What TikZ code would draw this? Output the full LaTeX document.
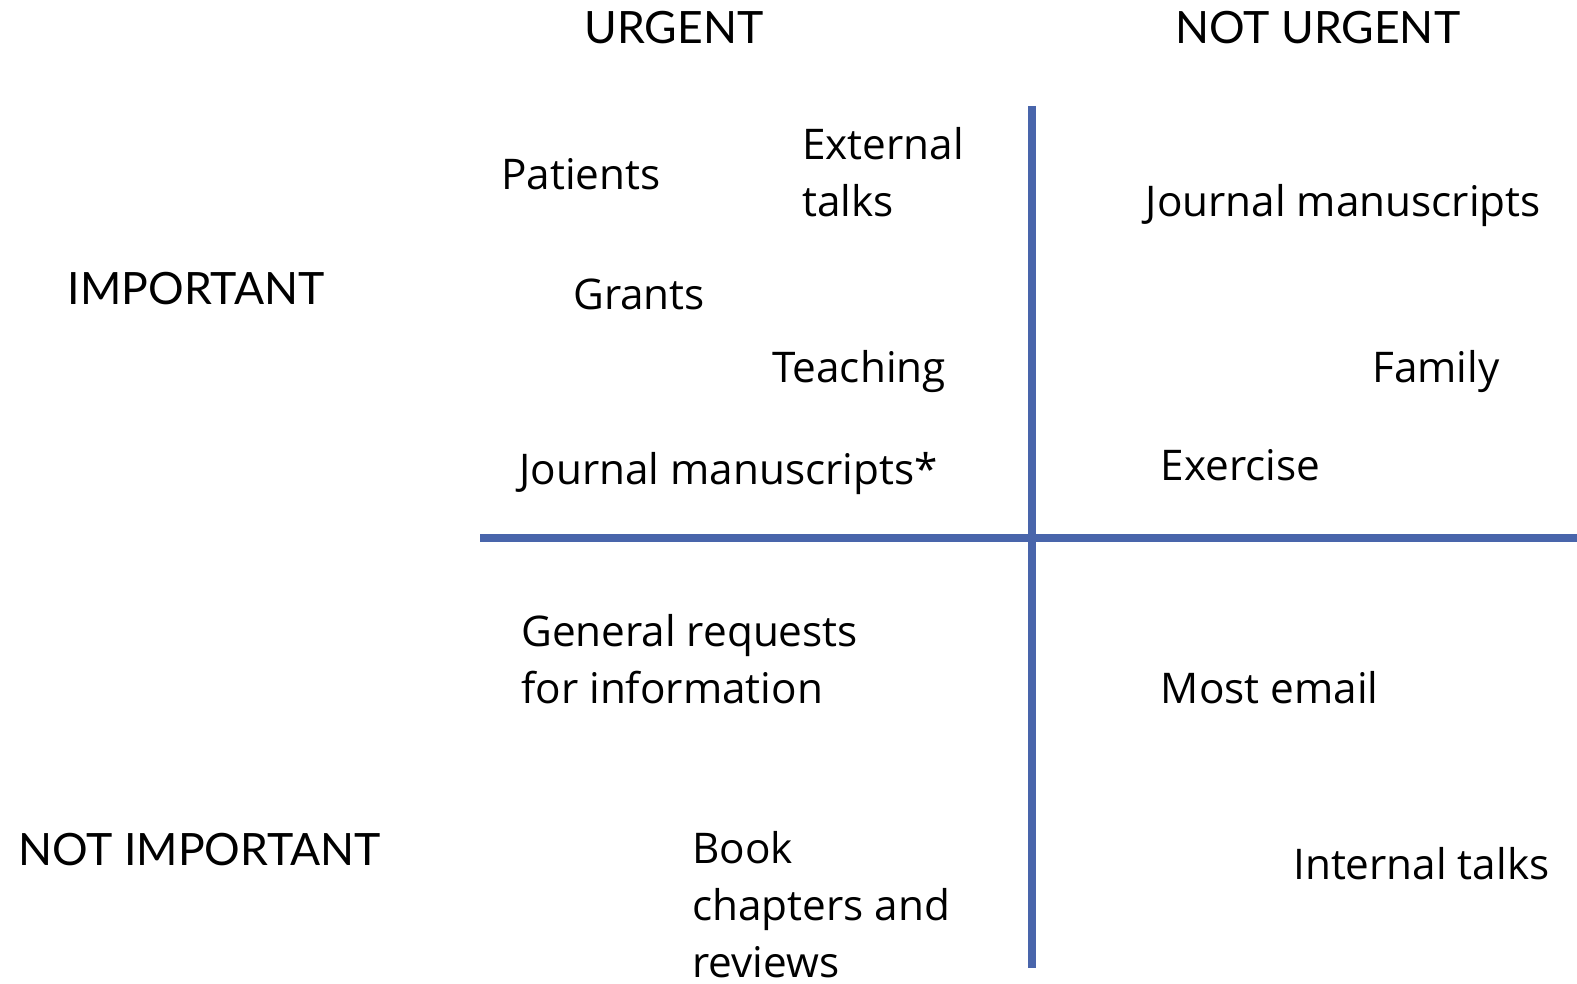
\documentclass[tikz,border=0pt]{standalone}
\usepackage{fontspec}
\setmainfont{Open Sans}
\newfontfamily\headfont{Lato}
\definecolor{gridblue}{RGB}{73,101,171}
\begin{document}
\begin{tikzpicture}[x=0.75pt,y=-0.75pt,
  head/.style={anchor=base west,inner sep=0pt,font=\headfont\fontsize{33.4}{40}\selectfont},
  item/.style={anchor=base west,inner sep=0pt,align=left,font=\fontsize{31.7}{42.75}\selectfont},
  axis/.style={draw=gridblue,line width=6pt}]
\useasboundingbox (0,0) rectangle (1577,984);
% grid lines
\coordinate (vtop) at (1031.5,106);
\coordinate (vbot) at (1031.5,968);
\coordinate (hleft) at (480,537.5);
\coordinate (hright) at (1577,537.5);
\draw[axis] (vtop) -- (vbot);
\draw[axis] (hleft) -- (hright);
% headers
\node[head] (urg) at (584,44) {URGENT};
\node[head] (nurg) at (1175,44) {NOT URGENT};
\node[head] (imp) at (67.5,304) {IMPORTANT};
\node[head] (nimp) at (18,865) {NOT IMPORTANT};
% urgent & important (anchor = baseline of last line)
\node[item] (pat) at (501,190) {Patients};
\node[item] (ext) at (802,217) {External\\talks};
\node[item] (gra) at (573,310) {Grants};
\node[item] (tea) at (772,382) {Teaching};
\node[item] (jms) at (519,484) {Journal manuscripts*};
% not urgent & important
\node[item] (jm) at (1145.5,217) {Journal manuscripts};
\node[item] (fam) at (1372,382) {Family};
\node[item] (exe) at (1160.6,480) {Exercise};
% urgent & not important
\node[item] (gen) at (521,703) {General requests\\for information};
\node[item] (book) at (692,977) {Book\\chapters and\\reviews};
% not urgent & not important
\node[item] (mail) at (1160.6,703) {Most email};
\node[item] (int) at (1293,879) {Internal talks};
\end{tikzpicture}
\end{document}
